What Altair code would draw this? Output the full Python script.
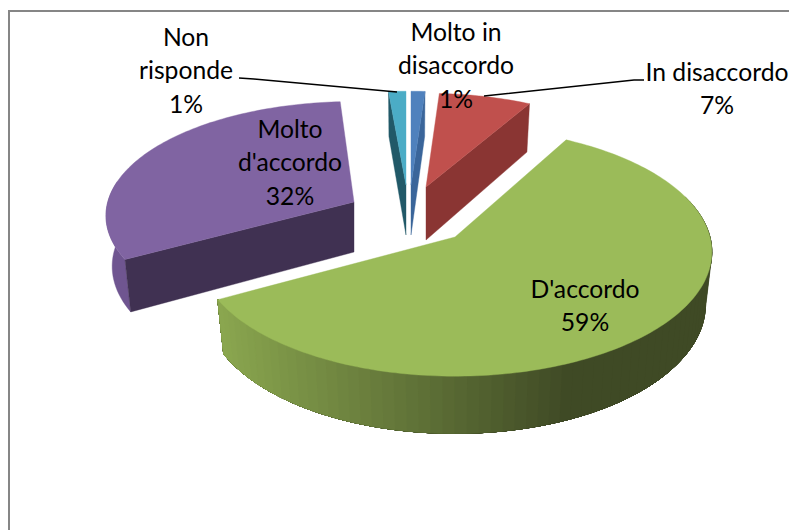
import math
import altair as alt

# ---- chart data -------------------------------------------------------
categories = ["Molto in disaccordo", "In disaccordo", "D'accordo", "Molto d'accordo", "Non risponde"]
shares = [1, 7, 59, 32, 1]
label_lines = [
    "Molto in\ndisaccordo\n1%",
    "In disaccordo\n7%",
    "D'accordo\n59%",
    "Molto\nd'accordo\n32%",
    "Non\nrisponde\n1%",
]
top_colors = ["#4F81BD", "#C0504D", "#9BBB59", "#8064A2", "#4BACC6"]
side_colors = ["#3A659A", "#8A3533", "#647A38", "#403152", "#215968"]

# ---- layout of the exploded 3-D pie ------------------------------------
W, H = 781, 522
MARGIN = 8
RX, RY, PERSP, TAPER = 250, 125, 0.12, 0.975
apex_x = [411, 426, 455, 354, 406]
apex_y = [185, 187, 237, 202, 185]
stretch_x = [1.0, 0.95, 1.02, 0.985, 1.25]
stretch_y = [0.84, 0.84, 0.98, 0.9, 0.84]
depth = [50, 53, 52, 50, 50]
label_x = [456, 717, 585, 290, 186]
label_y = [34, 74, 291, 131, 39]
leaders = {
    "Non risponde": [(239, 78), (254, 79), (397, 92)],
    "In disaccordo": [(644, 80), (634, 80), (484, 96)],
}


def rim(i, theta, lower=False):
    """Screen point on slice i's rim at clock angle theta (radians)."""
    u, v = math.sin(theta), -math.cos(theta)
    s = 1 / (1 - PERSP * v)
    dx = u * RX * s * stretch_x[i]
    dy = v * RY * s * stretch_y[i]
    if lower:
        return (apex_x[i] + dx * TAPER - MARGIN, apex_y[i] + dy + depth[i] * (1 + 0.1 * v) - MARGIN)
    return (apex_x[i] + dx - MARGIN, apex_y[i] + dy - MARGIN)


def feature(points, color):
    ring = [list(p) for p in points]
    ring.append(ring[0])
    return {
        "type": "Feature",
        "properties": {"color": color},
        "geometry": {"type": "Polygon", "coordinates": [ring]},
    }


def mix(c1, c2, t):
    a = [int(c1[k:k + 2], 16) for k in (1, 3, 5)]
    b = [int(c2[k:k + 2], 16) for k in (1, 3, 5)]
    return "#%02x%02x%02x" % tuple(round(p + (q - p) * t) for p, q in zip(a, b))


edges = [0]
for share in shares:
    edges.append(edges[-1] + share / sum(shares) * 2 * math.pi)

features = []
for i in range(len(shares)):
    a0, a1 = edges[i], edges[i + 1]
    apex_top = (apex_x[i] - MARGIN, apex_y[i] - MARGIN)
    apex_low = (apex_x[i] - MARGIN, apex_y[i] + depth[i] - MARGIN)

    # visible cut face
    if i in (0, 1):   # right-hand cut
        features.append(feature([apex_top, rim(i, a1), rim(i, a1, True), apex_low], side_colors[i]))
    if i == 4:        # left-hand cut
        features.append(feature([apex_top, rim(i, a0), rim(i, a0, True), apex_low], side_colors[i]))
    if i == 3:        # front cut and outer wall of the purple slice
        features.append(feature([rim(i, a0 + k * 0.03) for k in range(24)]
                                + [rim(i, a0 + k * 0.03, True) for k in range(23, -1, -1)], "#6F5590"))
        features.append(feature([apex_top, rim(i, a0), rim(i, a0, True), apex_low], side_colors[i]))
    if i == 2:        # outer wall with its horizontal shading: each band overlaps the next
        n = 70
        start, stop = math.radians(70), a1
        for k in range(n):
            t0 = start + (stop - start) * k / n
            arc = [t0 + (stop - t0) * j / 40 for j in range(41)]
            x_mid = rim(i, t0)[0] + MARGIN
            f = min(1, max(0, (x_mid - 222) / (575 - 222)))
            col = mix("#8AA64F", "#3F4A25", f)
            features.append(feature([rim(i, t) for t in arc]
                                    + [rim(i, t, True) for t in reversed(arc)], col))

    # top face
    steps = max(3, int((a1 - a0) / 0.02))
    pts = [rim(i, a0 + (a1 - a0) * k / steps) for k in range(steps + 1)]
    features.append(feature([apex_top] + pts, top_colors[i]))

base = alt.Chart(alt.Data(values=features)).mark_geoshape(strokeWidth=0.4).encode(
    fill=alt.Fill("properties.color:N", scale=None),
    stroke=alt.Stroke("properties.color:N", scale=None),
).project(type="identity", scale=1, translate=[0, 0])

leader_rows = [
    {"name": name, "order": k, "x": px - MARGIN, "y": py - MARGIN}
    for name, pts in leaders.items() for k, (px, py) in enumerate(pts)
]
leader_layer = alt.Chart(alt.Data(values=leader_rows)).mark_line(color="#000000", strokeWidth=1.6).encode(
    x=alt.X("x:Q", scale=None, axis=None),
    y=alt.Y("y:Q", scale=None, axis=None),
    detail="name:N",
    order="order:Q",
)

label_rows = [
    {"category": c, "text": t, "x": x - MARGIN, "y": y - MARGIN}
    for c, t, x, y in zip(categories, label_lines, label_x, label_y)
]
labels = alt.Chart(alt.Data(values=label_rows)).mark_text(
    font="Lato", fontSize=24.7, color="#000000", align="center", baseline="middle",
    lineBreak="\n", lineHeight=33.3,
).encode(
    x=alt.X("x:Q", scale=None, axis=None),
    y=alt.Y("y:Q", scale=None, axis=None),
    text="text:N",
)

frame_left = alt.Chart(alt.Data(values=[{"k": 0}])).mark_rule(color="#868686", strokeWidth=2).encode(
    x=alt.value(1), y=alt.value(3), y2=alt.value(H)
)
frame_top = alt.Chart(alt.Data(values=[{"k": 0}])).mark_rule(color="#868686", strokeWidth=2).encode(
    y=alt.value(3), x=alt.value(0), x2=alt.value(W)
)

chart = alt.layer(frame_left, frame_top, base, leader_layer, labels).properties(
    width=W, height=H, padding=0, background="#ffffff",
    autosize=alt.AutoSizeParams(type="none", contains="content"),
).configure_view(stroke=None)

chart.save("out.html", embed_options={"renderer": "svg", "actions": False})
